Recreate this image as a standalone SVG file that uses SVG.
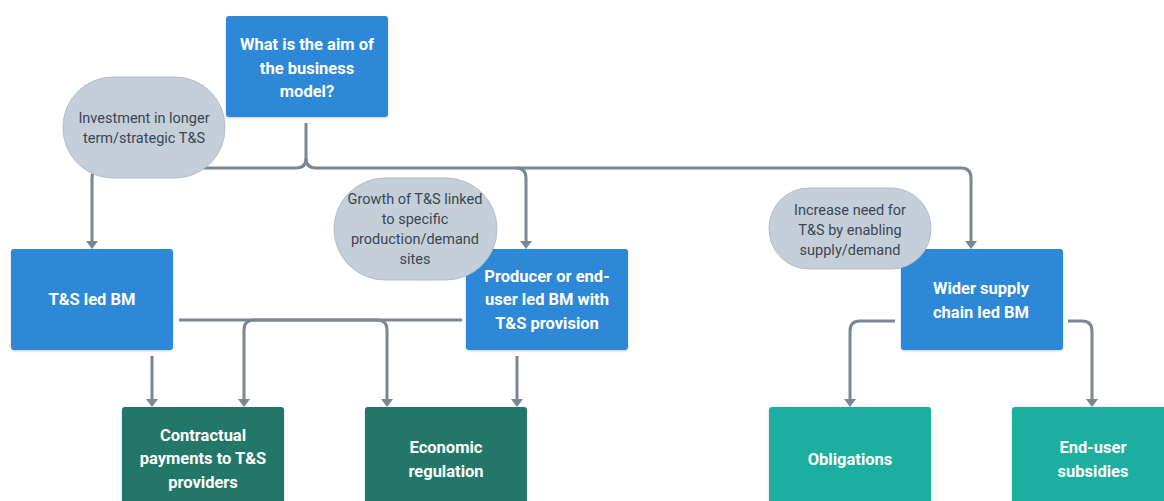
<svg xmlns="http://www.w3.org/2000/svg" width="1164" height="501" viewBox="0 0 1164 501">
<defs>
<style>
.blue{fill:#2e88d8}
.dark{fill:#207768}
.teal{fill:#1aae9e}
.bub{fill:#c4cfd9;stroke:#b3bec8;stroke-width:1}
.bt{font-family:Roboto,"Liberation Sans",sans-serif;font-size:16.5px;font-weight:bold;fill:#ffffff;text-anchor:middle}
.qt{font-family:Roboto,"Liberation Sans",sans-serif;font-size:14.5px;fill:#3b4652;text-anchor:middle}
.lnn{fill:none;stroke:#7b8794;stroke-width:3}
</style>
<filter id="sh" x="-5%" y="-5%" width="110%" height="115%">
<feDropShadow dx="0" dy="1" stdDeviation="1" flood-color="#000" flood-opacity="0.2"/>
</filter>
</defs>
<g id="connectors">
<path class="lnn" d="M306,123 V158 Q306,168 296,168 H102 Q92,168 92,178 V244"/>
<path class="lnn" d="M306,158 Q306,168 316,168 H961 Q971,168 971,178 V244"/>
<path class="lnn" d="M516,168 Q526,168 526,178 V244"/>
<path class="lnn" d="M152,356 V402"/>
<path class="lnn" d="M179,320 H377 Q387,320 387,330 V402"/>
<path class="lnn" d="M462,320 H254 Q244,320 244,330 V402"/>
<path class="lnn" d="M517,356 V402"/>
<path class="lnn" d="M895,321 H860 Q850,321 850,331 V402"/>
<path class="lnn" d="M1068,321 H1082 Q1092,321 1092,331 V402"/>
<g fill="#7b8794">
<path d="M86,241 H98 L92,249 Z"/>
<path d="M520,241 H532 L526,249 Z"/>
<path d="M965,241 H977 L971,249 Z"/>
<path d="M146,399 H158 L152,407 Z"/>
<path d="M238,399 H250 L244,407 Z"/>
<path d="M381,399 H393 L387,407 Z"/>
<path d="M511,399 H523 L517,407 Z"/>
<path d="M844,399 H856 L850,407 Z"/>
<path d="M1086,399 H1098 L1092,407 Z"/>
</g>
</g>
<g id="n-aim">
<rect class="blue" x="226" y="16" width="162" height="101" rx="3" filter="url(#sh)"/>
<text class="bt" x="307" y="50">What is the aim of</text>
<text class="bt" x="307" y="74">the business</text>
<text class="bt" x="307" y="97">model?</text>
</g>
<g id="n-ts">
<rect class="blue" x="11" y="249" width="162" height="101" rx="3" filter="url(#sh)"/>
<text class="bt" x="92" y="305">T&amp;S led BM</text>
</g>
<g id="n-producer">
<rect class="blue" x="466" y="249" width="162" height="101" rx="3" filter="url(#sh)"/>
<text class="bt" x="547" y="282">Producer or end-</text>
<text class="bt" x="547" y="305">user led BM with</text>
<text class="bt" x="547" y="329">T&amp;S provision</text>
</g>
<g id="n-wider">
<rect class="blue" x="901" y="249" width="162" height="101" rx="3" filter="url(#sh)"/>
<text class="bt" x="981" y="294">Wider supply</text>
<text class="bt" x="981" y="318">chain led BM</text>
</g>
<g id="n-contractual">
<rect class="dark" x="122" y="407" width="162" height="101" rx="3" filter="url(#sh)"/>
<text class="bt" x="203" y="441">Contractual</text>
<text class="bt" x="203" y="464">payments to T&amp;S</text>
<text class="bt" x="203" y="488">providers</text>
</g>
<g id="n-economic">
<rect class="dark" x="365" y="407" width="162" height="101" rx="3" filter="url(#sh)"/>
<text class="bt" x="446" y="453">Economic</text>
<text class="bt" x="446" y="477">regulation</text>
</g>
<g id="n-obligations">
<rect class="teal" x="769" y="407" width="162" height="101" rx="3" filter="url(#sh)"/>
<text class="bt" x="850" y="465">Obligations</text>
</g>
<g id="n-enduser">
<rect class="teal" x="1012" y="407" width="162" height="101" rx="3" filter="url(#sh)"/>
<text class="bt" x="1093" y="453">End-user</text>
<text class="bt" x="1093" y="477">subsidies</text>
</g>
<g id="q-investment">
<rect class="bub" x="63" y="77" width="162" height="101" rx="50" ry="50"/>
<text class="qt" x="144" y="123">Investment in longer</text>
<text class="qt" x="144" y="143">term/strategic T&amp;S</text>
</g>
<g id="q-growth">
<rect class="bub" x="334" y="178" width="163" height="102" rx="51" ry="51"/>
<text class="qt" x="415" y="204">Growth of T&amp;S linked</text>
<text class="qt" x="415" y="224">to specific</text>
<text class="qt" x="415" y="244">production/demand</text>
<text class="qt" x="415" y="264">sites</text>
</g>
<g id="q-increase">
<rect class="bub" x="769" y="188" width="162" height="81" rx="40" ry="40"/>
<text class="qt" x="850" y="215">Increase need for</text>
<text class="qt" x="850" y="235">T&amp;S by enabling</text>
<text class="qt" x="850" y="255">supply/demand</text>
</g>
</svg>
